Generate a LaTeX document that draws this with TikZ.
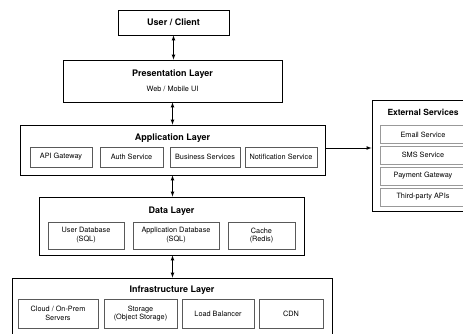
\documentclass[tikz,border=0pt]{standalone}
\usepackage{fontspec}
\setmainfont{TeX Gyre Heros}
\usepackage{xcolor}
\usepackage{tikz}
\definecolor{boxgray}{rgb}{0.35,0.35,0.35}
\definecolor{extgray}{rgb}{0.6,0.6,0.6}

\tikzset{
  layerbox/.style={draw=black, line width=0.8pt, inner sep=0pt},
  partbox/.style={draw=boxgray, line width=0.7pt, inner sep=0pt, align=center, font=\fontsize{7.3}{8.8}\selectfont},
  extbox/.style={draw=extgray, line width=0.7pt, inner sep=0pt, minimum width=86, minimum height=18, font=\fontsize{7.3}{8.8}\selectfont},
  layertitle/.style={font=\fontsize{9}{10}\selectfont\bfseries},
  link/.style={<->, >=latex, line width=0.7pt}
}

\begin{document}
\begin{tikzpicture}[x=1pt, y=-1pt]
        \useasboundingbox (0,0) rectangle (463,334);
        \clip (0,0) rectangle (463,334);

        % user and presentation
        \node[layerbox, minimum width=111, minimum height=25, layertitle] (user) at (173.5,22.5) {User / Client};
        \node[layerbox, minimum width=219, minimum height=42] (pres) at (172.5,81) {};
        \node[layertitle] (prestitle) at (172.5,74) {Presentation Layer};
        \node[font=\fontsize{7.3}{8.8}\selectfont] (presui) at (172.5,89) {Web / Mobile UI};

        % application layer
        \node[layerbox, minimum width=305, minimum height=50] (app) at (172.5,150) {};
        \node[layertitle] (apptitle) at (172.5,138) {Application Layer};
        \node[partbox, minimum width=62, minimum height=20] (api) at (61,157) {API Gateway};
        \node[partbox, minimum width=63, minimum height=20] (auth) at (131.5,157) {Auth Service};
        \node[partbox, minimum width=70, minimum height=20] (biz) at (205,157) {Business Services};
        \node[partbox, minimum width=72, minimum height=20] (notif) at (281,157) {Notification Service};

        % data layer
        \node[layerbox, minimum width=265, minimum height=58] (data) at (171.5,226) {};
        \node[layertitle] (datatitle) at (171.5,211) {Data Layer};
        \node[partbox, minimum width=76, minimum height=27] (userdb) at (86,235.5) {User Database\\(SQL)};
        \node[partbox, minimum width=86, minimum height=27] (appdb) at (176,235.5) {Application Database\\(SQL)};
        \node[partbox, minimum width=67, minimum height=27] (cache) at (261.5,235.5) {Cache\\(Redis)};

        % infrastructure layer
        \node[layerbox, minimum width=320, minimum height=62] (infra) at (172,309) {};
        \node[layertitle] (infratitle) at (172,290) {Infrastructure Layer};
        \node[partbox, minimum width=80, minimum height=29] (cloud) at (58,313.5) {Cloud / On-Prem\\Servers};
        \node[partbox, minimum width=73, minimum height=29] (storage) at (140.5,313.5) {Storage\\(Object Storage)};
        \node[partbox, minimum width=72, minimum height=29] (lb) at (218,313.5) {Load Balancer};
        \node[partbox, minimum width=64, minimum height=29] (cdn) at (291,313.5) {CDN};

        % external services
        \node[layerbox, minimum width=104, minimum height=111] (ext) at (424,155.5) {};
        \node[font=\fontsize{8.5}{10}\selectfont\bfseries] (exttitle) at (423,112) {External Services};
        \node[extbox] (email) at (423,134.5) {Email Service};
        \node[extbox] (sms) at (423,155) {SMS Service};
        \node[extbox] (pay) at (423,176) {Payment Gateway};
        \node[extbox] (third) at (423,197) {Third-party APIs};

        % connectors
        \draw[link] (user.south) -- (user.south |- pres.north);
        \draw[link] (prestitle |- pres.south) -- (prestitle |- app.north);
        \draw[link] (apptitle |- app.south) -- (apptitle |- data.north);
        \draw[link] (apptitle |- data.south) -- (apptitle |- infra.north);
        \draw[->, >=latex, line width=0.7pt] ([yshift=2]app.east) -- ([yshift=2]app.east -| ext.west);
    \end{tikzpicture}
\end{document}
